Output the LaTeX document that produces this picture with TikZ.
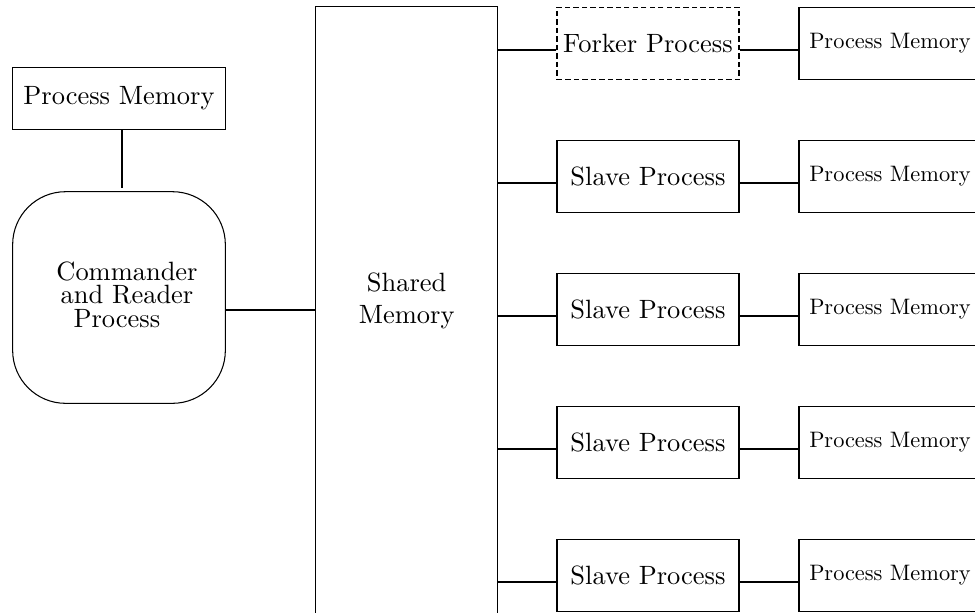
\documentclass[tikz,border=0pt]{standalone}
\usetikzlibrary{calc}
\begin{document}
\begin{tikzpicture}[x=0.378pt,y=-0.378pt,
  box/.style={draw, line width=0.4pt, minimum width=68.8pt, minimum height=27.4pt,
    inner sep=0pt, font=\fontsize{10}{12}\selectfont},
  membox/.style={box},
  dashbox/.style={box, dash pattern=on 2pt off 1.2pt},
  bigbox/.style={draw, line width=0.4pt, inner sep=0pt, minimum width=80.4pt},
  label/.style={align=center, inner sep=0pt, font=\fontsize{10}{12}\selectfont},
  link/.style={line width=0.8pt}]
\useasboundingbox (0,0) rectangle (975,612);
\clip (0,0) rectangle (975,612);

% commander side
\node[bigbox, minimum height=23.3pt, font=\fontsize{10}{12}\selectfont] (pm0) at (119,98.2) {Process Memory};
\node[bigbox, rounded corners=20pt, minimum height=80pt] (cr) at (119,297.5) {};
\node[label] (crtext) at (127,294.7) {Commander\\[-3pt]and Reader\\[-3pt]Process\hspace*{7.6pt}};

% shared memory block
\node[draw, line width=0.4pt, inner sep=0pt, minimum width=68.6pt, minimum height=262pt] (shm) at (406.3,353.4) {};
\node[label] (shmtext) at (406.7,300.6) {Shared\\Memory};

% worker processes and their memories
\newcommand\memtext{\scalebox{0.845}{Process Memory}}
\node[dashbox] (p0) at (648,43.5) {Forker Process};
\node[membox] (m0) at (890,43.5) {\memtext};
\foreach \i/\y in {1/176.5,2/309.5,3/442.5,4/575.5} {
  \node[box] (p\i) at (648,\y) {Slave Process};
  \node[membox] (m\i) at (890,\y) {\memtext};
}

% connectors
\draw[link, shorten >=1.2pt] ([xshift=1.2pt]pm0.south) -- ([xshift=1.2pt]cr.north);
\draw[link] ([yshift=-4.7pt]cr.east) -- ([yshift=-4.7pt]cr.east -| shm.west);
\foreach \i in {0,...,4} {
  \draw[link] ([yshift=-2.46pt]p\i.west) -- ([yshift=-2.46pt]p\i.west -| shm.east);
  \draw[link] ([yshift=-2.46pt]p\i.east) -- ([yshift=-2.46pt]p\i.east -| m\i.west);
}
\end{tikzpicture}
\end{document}
